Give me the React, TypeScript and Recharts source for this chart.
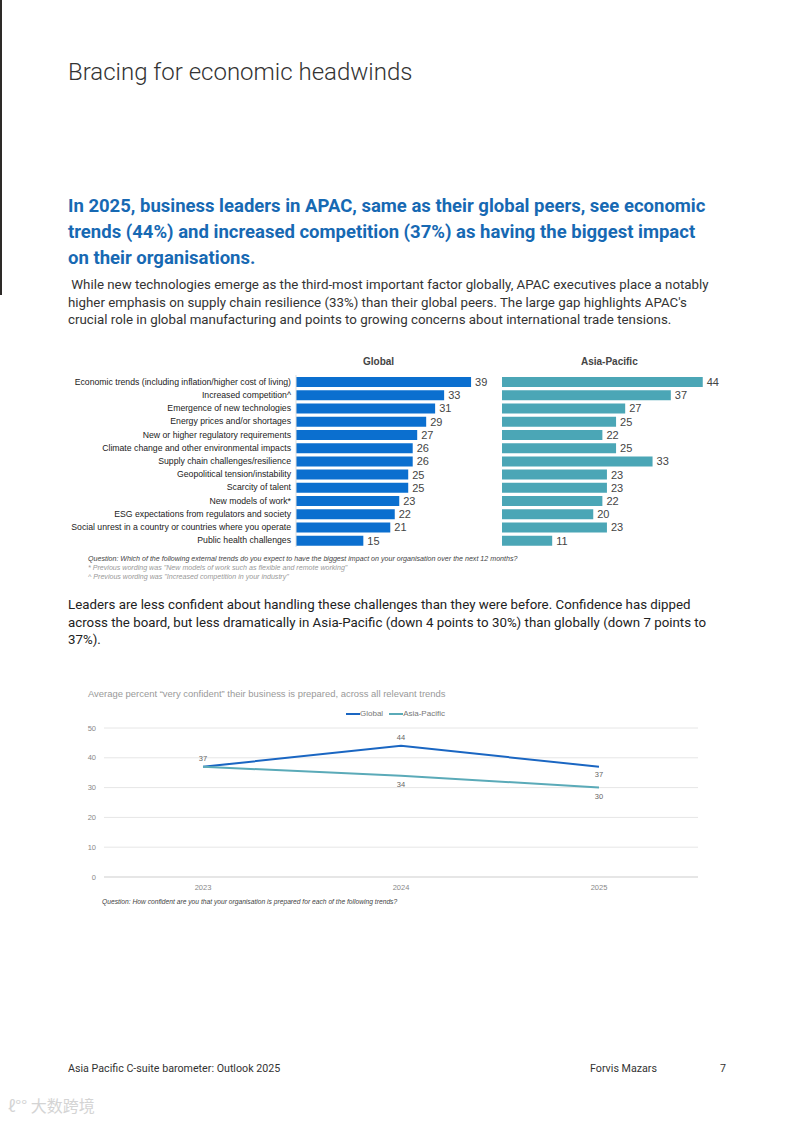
import React from "react";
import {
  Bar,
  BarChart,
  CartesianGrid,
  LabelList,
  Line,
  LineChart,
  XAxis,
  YAxis,
} from "recharts";

const categories = [
  "Economic trends (including inflation/higher cost of living)",
  "Increased competition^",
  "Emergence of new technologies",
  "Energy prices and/or shortages",
  "New or higher regulatory requirements",
  "Climate change and other environmental impacts",
  "Supply chain challenges/resilience",
  "Geopolitical tension/instability",
  "Scarcity of talent",
  "New models of work*",
  "ESG expectations from regulators and society",
  "Social unrest in a country or countries where you operate",
  "Public health challenges",
];
const globalValues = [39, 33, 31, 29, 27, 26, 26, 25, 25, 23, 22, 21, 15];
const apacValues = [44, 37, 27, 25, 22, 25, 33, 23, 23, 22, 20, 23, 11];

const years = ["2023", "2024", "2025"];
const globalConfidence = [37, 44, 37];
const apacConfidence = [37, 34, 30];
const confidenceTicks = [0, 10, 20, 30, 40, 50];

const barData = categories.map((name, i) => ({
  name,
  global: globalValues[i],
  apac: apacValues[i],
}));

const lineData = years.map((year, i) => ({
  year,
  global: globalConfidence[i],
  apac: apacConfidence[i],
}));

const GLOBAL_BLUE = "#0b6fcf";
const APAC_TEAL = "#4ba6b6";
const LINE_BLUE = "#1a66c2";
const LINE_TEAL = "#5aaab8";
const ARIAL = "'Liberation Sans', Arial, sans-serif";
const BODY = "Roboto, 'Noto Sans', sans-serif";

function CategoryTick(props: any) {
  const { x, y, payload } = props;
  return (
    <text x={x} y={y} textAnchor="end" dominantBaseline="central" fontSize={8.7} fill="#222" fontFamily={ARIAL}>
      {payload.value}
    </text>
  );
}

function GlobalPointLabel(props: any) {
  const { x, y, value, index } = props;
  const dy = index === 2 ? 8 : -8;
  return (
    <text x={x} y={y + dy} textAnchor="middle" dominantBaseline="middle" fontSize={7.5} fill="#666" fontFamily={ARIAL}>
      {value}
    </text>
  );
}

function ApacPointLabel(props: any) {
  const { x, y, value, index } = props;
  if (index === 0) return null;
  return (
    <text x={x} y={y + 9} textAnchor="middle" dominantBaseline="middle" fontSize={7.5} fill="#666" fontFamily={ARIAL}>
      {value}
    </text>
  );
}

function abs(left: number, top: number, extra: React.CSSProperties = {}): React.CSSProperties {
  return { position: "absolute", left, top, whiteSpace: "nowrap", ...extra };
}

export default function App() {
  const headingStyle: React.CSSProperties = {
    fontFamily: BODY,
    fontSize: 18.5,
    fontWeight: 700,
    color: "#1769b3",
    lineHeight: "26px",
  };
  const bodyStyle: React.CSSProperties = {
    fontFamily: BODY,
    fontSize: 13.3,
    color: "#333",
    lineHeight: "17.5px",
  };
  const footerStyle: React.CSSProperties = {
    fontFamily: BODY,
    fontSize: 10.7,
    color: "#333",
    lineHeight: "14px",
  };

  return (
    <div style={{ position: "absolute", left: 0, top: 0, width: 793, height: 1121, background: "#fff", overflow: "hidden" }}>
      <div style={{ position: "absolute", left: 0, top: 0, width: 2, height: 295, background: "#2d2a28" }} />

      <div style={abs(68, 57, { fontFamily: BODY, fontWeight: 300, fontSize: 24, color: "#333", lineHeight: "30px" })}>
        Bracing for economic headwinds
      </div>

      <div style={abs(68, 193, headingStyle)}>
        <div>In 2025, business leaders in APAC, same as their global peers, see economic</div>
        <div>trends (44%) and increased competition (37%) as having the biggest impact</div>
        <div>on their organisations.</div>
      </div>

      <div style={abs(68, 276, bodyStyle)}>
        <div>&nbsp;While new technologies emerge as the third-most important factor globally, APAC executives place a notably</div>
        <div>higher emphasis on supply chain resilience (33%) than their global peers. The large gap highlights APAC's</div>
        <div>crucial role in global manufacturing and points to growing concerns about international trade tensions.</div>
      </div>

      <div style={abs(363, 355, { fontFamily: ARIAL, fontSize: 10, fontWeight: 700, color: "#444", lineHeight: "14px" })}>Global</div>
      <div style={abs(581, 355, { fontFamily: ARIAL, fontSize: 10, fontWeight: 700, color: "#444", lineHeight: "14px" })}>Asia-Pacific</div>

      <div style={{ position: "absolute", left: 60, top: 372 }}>
        <BarChart
          width={455}
          height={178}
          data={barData}
          layout="vertical"
          margin={{ top: 3, right: 17, bottom: 3, left: 0 }}
          barSize={10}
        >
          <XAxis type="number" domain={[0, 45]} hide />
          <YAxis
            type="category"
            dataKey="name"
            width={236}
            tickLine={false}
            tickSize={0}
            tickMargin={5}
            axisLine={{ stroke: "#ddd" }}
            interval={0}
            tick={<CategoryTick />}
          />
          <Bar dataKey="global" fill={GLOBAL_BLUE} isAnimationActive={false}>
            <LabelList dataKey="global" position="right" offset={4} fontSize={11} fill="#444" fontFamily={ARIAL} />
          </Bar>
        </BarChart>
      </div>

      <div style={{ position: "absolute", left: 497, top: 372 }}>
        <BarChart
          width={244}
          height={178}
          data={barData}
          layout="vertical"
          margin={{ top: 3, right: 20, bottom: 3, left: 5 }}
          barSize={10}
        >
          <XAxis type="number" domain={[0, 48]} hide />
          <YAxis type="category" dataKey="name" width={0} tick={false} tickLine={false} axisLine={{ stroke: "#ddd" }} />
          <Bar dataKey="apac" fill={APAC_TEAL} isAnimationActive={false}>
            <LabelList dataKey="apac" position="right" offset={4} fontSize={11} fill="#444" fontFamily={ARIAL} />
          </Bar>
        </BarChart>
      </div>

      <div style={abs(88, 555, { fontFamily: ARIAL, fontSize: 7.1, fontStyle: "italic", lineHeight: "9px" })}>
        <div style={{ color: "#444" }}>
          Question: Which of the following external trends do you expect to have the biggest impact on your organisation over the next 12 months?
        </div>
        <div style={{ color: "#999" }}>* Previous wording was "New models of work such as flexible and remote working"</div>
        <div style={{ color: "#999" }}>^ Previous wording was "Increased competition in your industry"</div>
      </div>

      <div style={abs(68, 596, { ...bodyStyle, color: "#222" })}>
        <div>Leaders are less confident about handling these challenges than they were before. Confidence has dipped</div>
        <div>across the board, but less dramatically in Asia-Pacific (down 4 points to 30%) than globally (down 7 points to</div>
        <div>37%).</div>
      </div>

      <div style={abs(88, 688, { fontFamily: ARIAL, fontSize: 9.45, color: "#999", lineHeight: "12px" })}>
        Average percent “very confident” their business is prepared, across all relevant trends
      </div>

      <div style={abs(346, 709, { fontFamily: ARIAL, fontSize: 8, color: "#777", lineHeight: "10px", display: "flex", alignItems: "center" })}>
        <span style={{ display: "inline-block", width: 14, height: 2, background: LINE_BLUE }} />
        <span style={{ marginRight: 6 }}>Global</span>
        <span style={{ display: "inline-block", width: 14, height: 2, background: LINE_TEAL }} />
        <span>Asia-Pacific</span>
      </div>

      <div style={{ position: "absolute", left: 70, top: 720 }}>
        <LineChart
          width={638}
          height={179}
          data={lineData}
          margin={{ top: 8, right: 10, bottom: 2, left: 0 }}
        >
          <CartesianGrid vertical={false} stroke="#e6e6e6" />
          <XAxis
            dataKey="year"
            padding={{ left: 99, right: 99 }}
            tickLine={false}
            axisLine={{ stroke: "#d9d9d9" }}
            height={20}
            tick={{ fontSize: 7.5, fill: "#888", fontFamily: ARIAL }}
          />
          <YAxis
            width={34}
            domain={[0, 50]}
            ticks={confidenceTicks}
            tickLine={false}
            axisLine={false}
            tickSize={0}
            tickMargin={8}
            tick={{ fontSize: 7.5, fill: "#888", fontFamily: ARIAL }}
          />
          <Line
            type="linear"
            dataKey="global"
            stroke={LINE_BLUE}
            strokeWidth={2}
            dot={false}
            activeDot={false}
            isAnimationActive={false}
            label={<GlobalPointLabel />}
          />
          <Line
            type="linear"
            dataKey="apac"
            stroke={LINE_TEAL}
            strokeWidth={2}
            dot={false}
            activeDot={false}
            isAnimationActive={false}
            label={<ApacPointLabel />}
          />
        </LineChart>
      </div>

      <div style={abs(102, 897, { fontFamily: ARIAL, fontSize: 6.7, fontStyle: "italic", color: "#444", lineHeight: "9px" })}>
        Question: How confident are you that your organisation is prepared for each of the following trends?
      </div>

      <div style={abs(68, 1062, footerStyle)}>Asia Pacific C-suite barometer: Outlook 2025</div>
      <div style={abs(590, 1062, footerStyle)}>Forvis Mazars</div>
      <div style={abs(720, 1062, footerStyle)}>7</div>

      <div style={abs(8, 1095, { fontFamily: "'Noto Sans CJK SC', sans-serif", fontSize: 16, color: "#d4d4d4", lineHeight: "20px" })}>
        ℓ°° 大数跨境
      </div>
    </div>
  );
}
